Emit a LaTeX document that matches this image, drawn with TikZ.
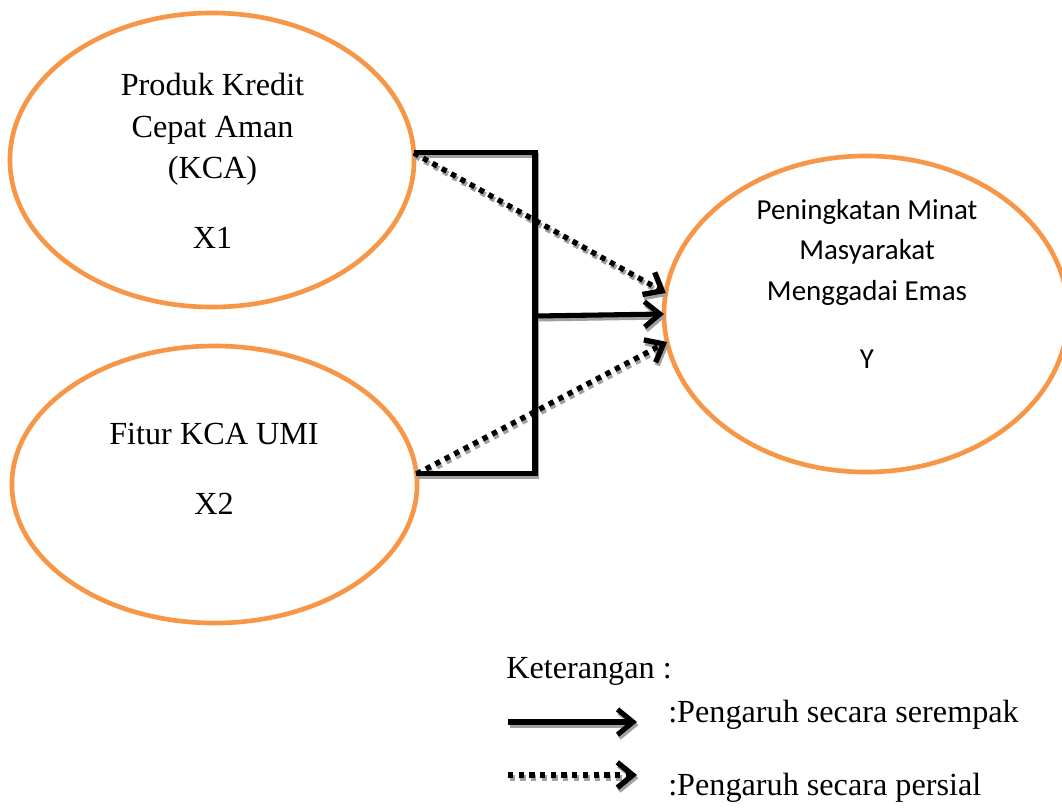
\documentclass[tikz,border=0pt]{standalone}
\usepackage{fontspec}
\setmainfont{Liberation Serif}
\newfontfamily\calibrifont{Carlito}
\usetikzlibrary{shapes.geometric,arrows.meta}
\definecolor{ellorange}{RGB}{247,150,70}
\definecolor{shadowgray}{RGB}{160,160,160}
\tikzset{
  ell/.style={ellipse, draw=ellorange, line width=3.3pt, outer sep=0pt, inner sep=0pt},
  serif/.style={font=\fontsize{22.9}{29.5}\selectfont, align=center, inner sep=0pt},
  sans/.style={font=\calibrifont\fontsize{20.6}{28.8}\selectfont, align=center, inner sep=0pt},
  conn/.style={line width=3.6pt, draw=black},
  dotconn/.style={line width=3.8pt, draw=black, dash pattern=on 3.8pt off 3.8pt},
  tip/.style={-{Straight Barb[length=11pt,width=18pt]}},
  shadowed/.style={draw=shadowgray, transform canvas={shift={(1.5,3)}}}
}
\begin{document}
\begin{tikzpicture}[x=0.025cm,y=-0.025cm]
\useasboundingbox (0,0) rectangle (1062,810);
% ellipses
\node[ell, minimum width=10.1cm, minimum height=7.35cm] (x1) at (212,160) {};
\node[ell, minimum width=10.125cm, minimum height=6.925cm] (x2) at (214.5,484.5) {};
\node[ell, minimum width=10.1cm, minimum height=7.9cm] (y) at (866,314) {};
% texts
\node[serif, anchor=north] (x1t) at (212.5,73) {Produk Kredit\\Cepat Aman\\(KCA)\\[20.3pt]X1};
\node[serif, anchor=north] (x2t) at (214,423) {Fitur KCA UMI\\[20.3pt]X2};
\node[sans, anchor=north] (yt) at (867,199) {Peningkatan Minat\\Masyarakat\\Menggadai Emas\\[19.6pt]Y};
% connectors
\coordinate (brk) at (535,316);
\draw[conn, shadowed] (x1.2) -| (brk) |- (x2.3.5);
\draw[conn, tip, shadowed] (brk) -- (y.west);
\draw[dotconn, tip, shadowed] (x1.2) -- (y.174);
\draw[dotconn, tip, shadowed] (x2.3.5) -- (y.188);
\draw[conn] (x1.2) -| (brk) |- (x2.3.5);
\draw[conn, tip] (brk) -- (y.west);
\draw[dotconn, tip] (x1.2) -- (y.174);
\draw[dotconn, tip] (x2.3.5) -- (y.188);
% legend
\node[serif, anchor=base west] (ket) at (506,678) {Keterangan :};
\node[serif, anchor=base west] (ser) at (668,722) {:Pengaruh secara serempak};
\node[serif, anchor=base west] (per) at (668,795) {:Pengaruh secara persial};
\coordinate (la1) at (508,722);
\coordinate (lb1) at (637,722);
\coordinate (la2) at (508,775);
\coordinate (lb2) at (637,775);
\draw[conn, tip, shadowed] (la1) -- (lb1);
\draw[dotconn, tip, shadowed] (la2) -- (lb2);
\draw[conn, tip] (la1) -- (lb1);
\draw[dotconn, tip] (la2) -- (lb2);
\end{tikzpicture}
\end{document}
